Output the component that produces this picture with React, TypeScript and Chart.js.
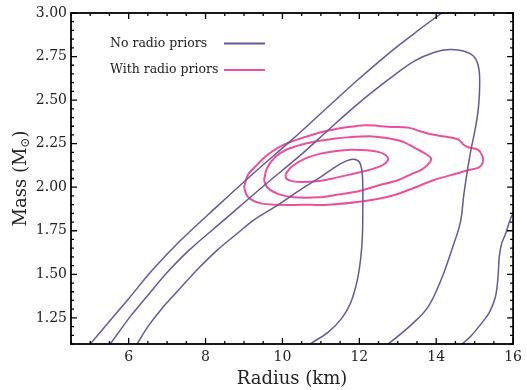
import React, { useEffect, useRef } from "react";
import { Chart, registerables } from "chart.js";

Chart.register(...registerables);

// ---- axes ----
const xRange = [4.5, 16];
const yRange = [1.1, 3.0];
const xTicks = [6, 8, 10, 12, 14, 16];
const yTicks = [1.25, 1.5, 1.75, 2.0, 2.25, 2.5, 2.75, 3.0];
const xMinorStep = 0.5;
const yMinorStep = 0.05;
const xTitle = "Radius (km)";
const yTitleMain = "Mass (M";
const yTitleSub = "⊙";
const seriesNames = ["No radio priors", "With radio priors"];
const seriesColors = ["#6a569b", "#ee4f9b"];

// ---- "No radio priors" contours (radius km, mass Msun) ----
const noRadioInner = [
  [6.22, 1.1], [6.5, 1.2], [6.85, 1.3], [7.3, 1.41], [7.8, 1.53], [8.31, 1.64],
  [8.8, 1.73], [9.26, 1.813], [9.9, 1.9], [10.5, 1.99], [11.0, 2.06], [11.4, 2.12],
  [11.65, 2.15], [11.85, 2.16], [12.0, 2.145], [12.07, 2.09], [12.09, 2.0],
  [12.09, 1.85], [12.08, 1.72], [12.04, 1.6], [11.95, 1.47], [11.78, 1.34],
  [11.55, 1.25], [11.2, 1.17], [10.72, 1.1], [10.6, 1.08],
];
const noRadioMiddle = [
  [5.52, 1.1], [5.75, 1.17], [6.05, 1.26], [6.5, 1.38], [7.0, 1.51], [7.58, 1.64],
  [8.5, 1.815], [9.47, 2.0], [10.5, 2.19], [11.2, 2.33], [11.97, 2.48], [12.83, 2.63],
  [13.44, 2.725], [13.96, 2.775], [14.35, 2.79], [14.73, 2.78], [15.0, 2.745],
  [15.11, 2.68], [15.13, 2.58], [15.1, 2.46], [15.02, 2.34], [14.9, 2.21],
  [14.8, 2.08], [14.72, 1.96], [14.63, 1.8], [14.42, 1.65], [14.13, 1.47],
  [13.78, 1.31], [13.35, 1.21], [12.75, 1.1], [12.6, 1.08],
];
const noRadioOuterLeft = [
  [5.0, 1.1], [5.5, 1.23], [6.0, 1.36], [6.6, 1.52], [7.32, 1.688], [8.3, 1.89],
  [9.3, 2.09], [10.25, 2.273], [11.11, 2.446], [11.97, 2.618], [12.83, 2.78],
  [13.44, 2.885], [14.15, 3.0], [14.5, 3.05],
];
const noRadioOuterRight = [
  [16.08, 1.88], [15.94, 1.823], [15.8, 1.73], [15.7, 1.675], [15.64, 1.6],
  [15.61, 1.49], [15.54, 1.37], [15.38, 1.28], [15.2, 1.225], [14.9, 1.145],
  [14.67, 1.1], [14.55, 1.08],
];

// ---- "With radio priors" contours ----
const radioInner = [
  [10.08, 2.075], [10.25, 2.12], [10.6, 2.165], [10.94, 2.19], [11.4, 2.208],
  [11.8, 2.215], [12.2, 2.212], [12.49, 2.203], [12.68, 2.185], [12.75, 2.16],
  [12.66, 2.135], [12.49, 2.115], [12.1, 2.09], [11.8, 2.075], [11.4, 2.055],
  [10.94, 2.035], [10.5, 2.03], [10.25, 2.035], [10.1, 2.05], [10.08, 2.075],
];
const radioMiddle = [
  [9.52, 2.04], [9.6, 2.11], [9.82, 2.175], [10.1, 2.215], [10.51, 2.245],
  [11.0, 2.268], [11.37, 2.279], [11.8, 2.288], [12.23, 2.292], [12.49, 2.288],
  [13.01, 2.27], [13.2, 2.255], [13.45, 2.225], [13.7, 2.195], [13.87, 2.163],
  [13.78, 2.13], [13.61, 2.1], [13.35, 2.075], [13.0, 2.04], [12.49, 2.01],
  [12.0, 1.978], [11.46, 1.958], [10.94, 1.942], [10.3, 1.942], [9.9, 1.96],
  [9.62, 1.995], [9.52, 2.04],
];
const radioOuter = [
  [9.0, 2.0], [9.1, 2.07], [9.3, 2.12], [9.5, 2.165], [9.73, 2.205], [10.0, 2.24],
  [10.34, 2.27], [10.8, 2.303], [11.2, 2.325], [11.7, 2.345], [12.15, 2.356],
  [12.5, 2.352], [12.83, 2.346], [13.27, 2.342], [13.6, 2.32], [13.9, 2.302],
  [14.3, 2.288], [14.58, 2.273], [14.72, 2.242], [14.85, 2.228], [15.08, 2.216],
  [15.2, 2.18], [15.21, 2.14], [15.1, 2.113], [14.8, 2.096], [14.56, 2.08],
  [13.96, 2.043], [13.35, 1.99], [12.83, 1.95], [12.06, 1.918], [11.2, 1.9],
  [10.5, 1.899], [9.9, 1.899], [9.39, 1.91], [9.1, 1.945], [9.0, 2.0],
];

const FONT = "'DejaVu Serif', 'Liberation Serif', serif";

const toPts = (arr: number[][]) => arr.map(([x, y]) => ({ x, y }));

const framePlugin = {
  id: "frameTicks",
  afterDatasetsDraw(chart: any) {
    const { ctx, chartArea } = chart;
    const { left, right, top, bottom } = chartArea;
    const xs = chart.scales.x;
    const ys = chart.scales.y;
    ctx.save();
    ctx.strokeStyle = "#000";
    ctx.lineWidth = 1.3;
    ctx.beginPath();
    const nx = Math.round((xRange[1] - xRange[0]) / xMinorStep);
    for (let i = 0; i <= nx; i++) {
      const v = xRange[0] + i * xMinorStep;
      const major = xTicks.some((t) => Math.abs(t - v) < 1e-6);
      const len = major ? 6 : 3;
      const px = xs.getPixelForValue(v);
      ctx.moveTo(px, bottom);
      ctx.lineTo(px, bottom - len);
      ctx.moveTo(px, top);
      ctx.lineTo(px, top + len);
    }
    const ny = Math.round((yRange[1] - yRange[0]) / yMinorStep);
    for (let i = 0; i <= ny; i++) {
      const v = yRange[0] + i * yMinorStep;
      const major = yTicks.some((t) => Math.abs(t - v) < 1e-6);
      const len = major ? 6 : 3;
      const py = ys.getPixelForValue(v);
      ctx.moveTo(left, py);
      ctx.lineTo(left + len, py);
      ctx.moveTo(right, py);
      ctx.lineTo(right - len, py);
    }
    ctx.stroke();
    ctx.lineWidth = 1.8;
    ctx.strokeRect(left, top, right - left, bottom - top);

    // legend
    ctx.font = `12.5px ${FONT}`;
    ctx.fillStyle = "#222";
    ctx.textBaseline = "middle";
    ctx.textAlign = "left";
    const legY = [43.5, 70];
    seriesNames.forEach((name, i) => {
      ctx.fillText(name, 110, legY[i]);
      ctx.strokeStyle = seriesColors[i];
      ctx.lineWidth = 2;
      ctx.beginPath();
      ctx.moveTo(224, legY[i]);
      ctx.lineTo(265, legY[i]);
      ctx.stroke();
    });

    // axis titles
    ctx.fillStyle = "#222";
    ctx.font = `18px ${FONT}`;
    ctx.textAlign = "center";
    ctx.textBaseline = "middle";
    ctx.fillText(xTitle, (left + right) / 2, 379);

    ctx.save();
    ctx.translate(20, (top + bottom) / 2);
    ctx.rotate(-Math.PI / 2);
    ctx.font = `18px ${FONT}`;
    const w1 = ctx.measureText(yTitleMain).width;
    ctx.font = `12px ${FONT}`;
    const w2 = ctx.measureText(yTitleSub).width;
    ctx.font = `18px ${FONT}`;
    const w3 = ctx.measureText(")").width;
    const total = w1 + w2 + w3;
    let cx = -total / 2;
    ctx.textAlign = "left";
    ctx.textBaseline = "alphabetic";
    ctx.fillText(yTitleMain, cx, 6);
    cx += w1;
    ctx.font = `12px ${FONT}`;
    ctx.fillText(yTitleSub, cx, 9);
    cx += w2;
    ctx.font = `18px ${FONT}`;
    ctx.fillText(")", cx, 6);
    ctx.restore();

    ctx.restore();
  },
};

export default function App() {
  const ref = useRef<HTMLCanvasElement | null>(null);

  useEffect(() => {
    document.body.style.margin = "0";
    const canvas = ref.current;
    if (!canvas) return;
    const line = (data: number[][], color: string, width: number, label: string, order: number) => ({
      label,
      data: toPts(data),
      showLine: true,
      borderColor: color,
      backgroundColor: color,
      borderWidth: width,
      pointRadius: 0,
      tension: 0.35,
      clip: 0,
      order,
    });
    const chart = new Chart(canvas, {
      type: "scatter",
      data: {
        datasets: [
          line(noRadioInner, seriesColors[0], 1.5, seriesNames[0], 0),
          line(noRadioMiddle, seriesColors[0], 1.5, seriesNames[0], 0),
          line(noRadioOuterLeft, seriesColors[0], 1.5, seriesNames[0], 0),
          line(noRadioOuterRight, seriesColors[0], 1.5, seriesNames[0], 0),
          line(radioInner, seriesColors[1], 2, seriesNames[1], 1),
          line(radioMiddle, seriesColors[1], 2, seriesNames[1], 1),
          line(radioOuter, seriesColors[1], 2, seriesNames[1], 1),
        ] as any,
      },
      options: {
        animation: false,
        responsive: false,
        devicePixelRatio: 1,
        layout: { padding: { top: 13, right: 12, left: 0, bottom: 0 } },
        plugins: { legend: { display: false }, tooltip: { enabled: false } },
        scales: {
          x: {
            type: "linear",
            min: xRange[0],
            max: xRange[1],
            grid: { display: false, drawTicks: false },
            border: { display: false },
            ticks: {
              font: { family: FONT, size: 14 },
              color: "#222",
              padding: 5,
              maxRotation: 0,
              autoSkip: false,
            },
            afterBuildTicks: (s: any) => {
              s.ticks = xTicks.map((v) => ({ value: v }));
            },
            afterFit: (s: any) => {
              s.height = 46;
            },
          },
          y: {
            type: "linear",
            min: yRange[0],
            max: yRange[1],
            grid: { display: false, drawTicks: false },
            border: { display: false },
            ticks: {
              font: { family: FONT, size: 14 },
              color: "#222",
              padding: 4,
              autoSkip: false,
              callback: (v: any) => Number(v).toFixed(2),
            },
            afterBuildTicks: (s: any) => {
              s.ticks = yTicks.map((v) => ({ value: v }));
            },
            afterFit: (s: any) => {
              s.width = 71;
            },
          },
        },
      } as any,
      plugins: [framePlugin],
    });
    return () => chart.destroy();
  }, []);

  return (
    <div style={{ width: 527, height: 390 }}>
      <canvas ref={ref} width={527} height={390} style={{ display: "block" }} />
    </div>
  );
}
